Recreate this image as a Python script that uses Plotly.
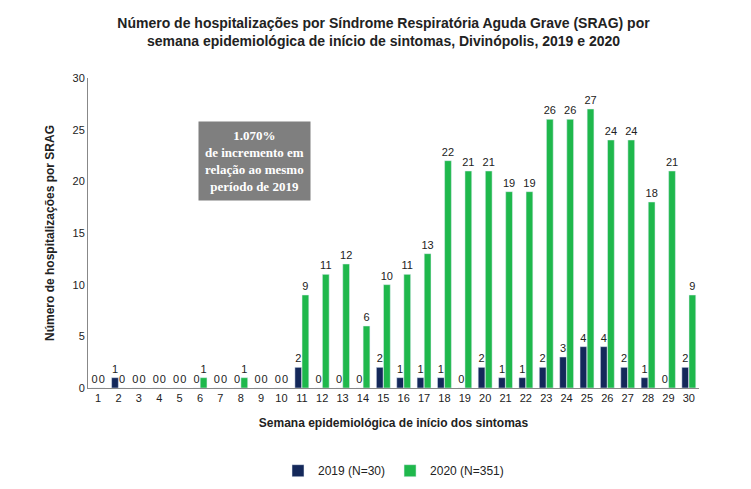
import plotly.graph_objects as go

weeks = [str(i) for i in range(1, 31)]
cases_2019 = [0, 1, 0, 0, 0, 0, 0, 0, 0, 0, 2, 0, 0, 0, 2, 1, 1, 1, 0, 2,
              1, 1, 2, 3, 4, 4, 2, 1, 0, 2]
cases_2020 = [0, 0, 0, 0, 0, 1, 0, 1, 0, 0, 9, 11, 12, 6, 10, 11, 13, 22, 21, 21,
              19, 19, 26, 26, 27, 24, 24, 18, 21, 9]

fig = go.Figure()
fig.add_trace(go.Bar(x=weeks, y=cases_2019, name="2019 (N=30)",
                     marker_color="#14285a", text=cases_2019,
                     textposition="outside", constraintext="none", cliponaxis=False,
                     textfont=dict(size=11, color="#222")))
fig.add_trace(go.Bar(x=weeks, y=cases_2020, name="2020 (N=351)",
                     marker_color="#1fb84c", text=cases_2020,
                     textposition="outside", constraintext="none", cliponaxis=False,
                     textfont=dict(size=11, color="#222")))

fig.add_annotation(
    x=0.18, y=0.86, xref="paper", yref="paper", showarrow=False,
    text="<b>1.070%<br>de incremento em<br>relação ao mesmo<br>período de 2019</b>",
    font=dict(family="Liberation Serif", size=13, color="white"),
    bgcolor="#7f7f7f", borderpad=6)

fig.update_layout(
    width=751, height=489,
    paper_bgcolor="white", plot_bgcolor="white",
    font=dict(family="Liberation Sans", size=12, color="#222"),
    title=dict(text="<b>Número de hospitalizações por Síndrome Respiratória Aguda Grave (SRAG) por<br>semana epidemiológica de início de sintomas, Divinópolis, 2019 e 2020</b>",
               x=0.5, y=0.96, font=dict(size=14)),
    barmode="group", bargap=0.3, bargroupgap=0.05,
    uniformtext=dict(minsize=10, mode="show"),
    margin=dict(l=80, r=60, t=70, b=90),
    legend=dict(orientation="h", x=0.5, xanchor="center", y=-0.22,
                font=dict(size=12)),
    xaxis=dict(title=dict(text="<b>Semana epidemiológica de início dos sintomas</b>",
                          font=dict(size=12)),
               tickfont=dict(size=11), showline=True, linecolor="#888"),
    yaxis=dict(title=dict(text="<b>Número de hospitalizações por SRAG</b>",
                          font=dict(size=12)),
               range=[0, 30], dtick=5, showgrid=False,
               showline=True, linecolor="#888", tickfont=dict(size=11)),
)

fig.write_html("out.html")
